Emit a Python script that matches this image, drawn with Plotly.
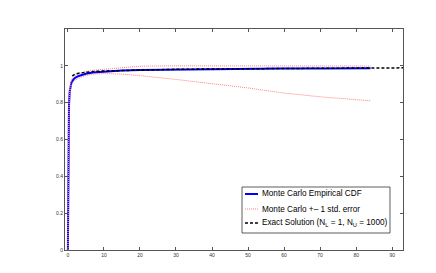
import plotly.graph_objects as go

# Monte Carlo empirical CDF
mc_x = [0, 0.05, 0.1, 0.2, 0.3, 0.5, 0.7, 1, 1.5, 2, 3, 4, 5, 7, 10, 15, 20, 30, 40, 50, 60, 70, 84]
mc_y = [0, 0.3, 0.5, 0.68, 0.78, 0.86, 0.89, 0.91, 0.925, 0.935, 0.945, 0.952, 0.957, 0.964, 0.969, 0.974, 0.977, 0.980, 0.982, 0.984, 0.985, 0.986, 0.987]

# +/- 1 std. error
up_y = [0, 0.32, 0.52, 0.70, 0.80, 0.875, 0.905, 0.925, 0.94, 0.948, 0.957, 0.964, 0.969, 0.976, 0.982, 0.992, 0.998, 1.0, 1.0, 1.0, 1.0, 1.0, 0.999]
lo_y = [0, 0.28, 0.48, 0.66, 0.76, 0.845, 0.875, 0.895, 0.91, 0.922, 0.933, 0.941, 0.948, 0.955, 0.958, 0.955, 0.947, 0.926, 0.904, 0.88, 0.852, 0.832, 0.81]

# Exact solution
ex_x = [1.2, 2, 3, 5, 7, 10, 15, 20, 30, 40, 50, 60, 70, 80, 93]
ex_y = [0.945, 0.955, 0.960, 0.965, 0.969, 0.972, 0.975, 0.978, 0.981, 0.983, 0.985, 0.986, 0.987, 0.988, 0.989]

legend_labels = ["Monte Carlo Empirical CDF",
                 "Monte Carlo +\u2013 1 std. error",
                 "Exact Solution (N<sub>L</sub> = 1, N<sub>U</sub> = 1000)"]

blue = dict(color="#0000ff", width=2)
red = dict(color="#ff8080", width=1, dash="1px,1px")
black = dict(color="black", width=1.5, dash="3px,2px")

fig = go.Figure()
fig.add_trace(go.Scatter(x=mc_x, y=mc_y, mode="lines", line=blue, name=legend_labels[0]))
fig.add_trace(go.Scatter(x=mc_x, y=up_y, mode="lines", line=red, name=legend_labels[1]))
fig.add_trace(go.Scatter(x=mc_x, y=lo_y, mode="lines", line=red, name="lower"))
fig.add_trace(go.Scatter(x=ex_x, y=ex_y, mode="lines", line=black, name=legend_labels[2]))

axis_common = dict(showgrid=False, zeroline=False, showline=True, linecolor="#555", linewidth=1,
                   mirror="ticks", ticks="inside", ticklen=3, tickcolor="#555",
                   tickfont=dict(family="Liberation Sans", size=5, color="#333"))
fig.update_xaxes(range=[-0.8, 93], tickvals=[0, 10, 20, 30, 40, 50, 60, 70, 80, 90], **axis_common)
fig.update_yaxes(range=[0, 1.2], tickvals=[0, 0.2, 0.4, 0.6, 0.8, 1], **axis_common)

# Custom compact legend (box, line samples, labels) in paper coordinates
lx0, lx1, ly0, ly1 = 0.5237, 0.9615, 0.0769, 0.285
fig.add_shape(type="rect", xref="paper", yref="paper", x0=lx0, x1=lx1, y0=ly0, y1=ly1,
              line=dict(color="#333", width=0.8), fillcolor="white", layer="above")
rows = [0.2534, 0.1855, 0.1222]
styles = [blue, red, black]
for ry, st, lab in zip(rows, styles, legend_labels):
    fig.add_shape(type="line", xref="paper", yref="paper", x0=0.5325, x1=0.571, y0=ry, y1=ry,
                  line=st, layer="above")
    fig.add_annotation(xref="paper", yref="paper", x=0.576, y=ry, text=lab, showarrow=False,
                       xanchor="left", yanchor="middle",
                       font=dict(family="Liberation Sans", size=8.2, color="black"))

fig.update_layout(
    width=436, height=273,
    margin=dict(l=57, r=41, t=21, b=31),
    paper_bgcolor="white", plot_bgcolor="white",
    font=dict(family="Liberation Sans", size=8, color="black"),
    showlegend=False,
)
fig.write_html("out.html")
